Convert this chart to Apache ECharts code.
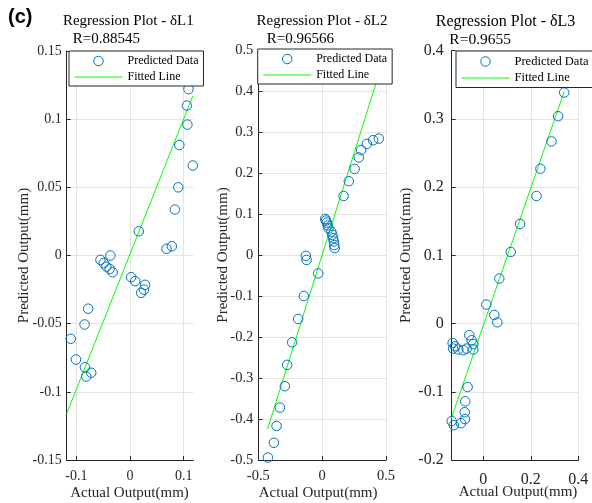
<!DOCTYPE html>
<html>
<head>
<meta charset="utf-8">
<script src="https://cdn.jsdelivr.net/npm/echarts@6/dist/echarts.min.js"></script>
<style>
html,body{margin:0;padding:0;background:#fff;}
#c{width:592px;height:503px;}
</style>
</head>
<body>
<div id="c"></div>
<script>
// ---- Data ----
const panelTitles = ['Regression Plot - δL1', 'Regression Plot - δL2', 'Regression Plot - δL3'];
const rLabels = ['R=0.88545', 'R=0.96566', 'R=0.9655'];
const legendNames = ['Predicted Data', 'Fitted Line'];
const xAxisName = 'Actual Output(mm)';
const yAxisName = 'Predicted Output(mm)';

const L1_actual = [0.109, 0.106, 0.107, 0.092, 0.117, 0.090, 0.0836, 0.0164, 0.068, 0.078,
  -0.0551, -0.049, -0.0366, -0.044, -0.0379, -0.0323, 0.002, 0.0096, 0.028, 0.026, 0.0207,
  -0.078, -0.0847, -0.1105, -0.1185, -0.1007, -0.084, -0.0815, -0.0723];
const L1_pred = [0.122, 0.110, 0.096, 0.081, 0.066, 0.050, 0.0337, 0.0178, 0.0049, 0.0068,
  -0.0032, -0.0056, 0.0, -0.0081, -0.0098, -0.0123, -0.0159, -0.0188, -0.0215, -0.025, -0.0274,
  -0.039, -0.0506, -0.0611, -0.0692, -0.0763, -0.082, -0.0888, -0.086];
const L1_fitX = [-0.118, 0.117];
const L1_fitY = [-0.116, 0.117];

const L2_actual = [0.444, 0.399, 0.350, 0.305, 0.287, 0.254, 0.209, 0.168,
  0.024, 0.030, 0.036, 0.044, 0.050, 0.072, 0.080, 0.086, 0.091, 0.094, 0.098,
  -0.128, -0.122, -0.031, -0.143, -0.188, -0.235, -0.274, -0.292, -0.331, -0.357, -0.378, -0.425];
const L2_pred = [0.284, 0.280, 0.271, 0.256, 0.238, 0.210, 0.180, 0.144,
  0.088, 0.084, 0.079, 0.072, 0.065, 0.057, 0.049, 0.041, 0.033, 0.024, 0.017,
  -0.002, -0.012, -0.045, -0.100, -0.156, -0.213, -0.268, -0.320, -0.372, -0.417, -0.458, -0.494];
const L2_fitX = [-0.428, 0.444];
const L2_fitY = [-0.425, 0.441];

const L3_actual = [0.3405, 0.315, 0.287, 0.2405, 0.224, 0.155, 0.1156, 0.0675, 0.0127, 0.0464, 0.059,
  -0.129, -0.119, -0.127, -0.105, -0.084, -0.070, -0.059, -0.049, -0.042, -0.042,
  -0.066, -0.076, -0.078, -0.077, -0.094, -0.133, -0.124];
const L3_pred = [0.3387, 0.304, 0.267, 0.227, 0.187, 0.146, 0.105, 0.066, 0.0279, 0.0126, 0.0019,
  -0.0284, -0.0333, -0.0367, -0.038, -0.039, -0.0367, -0.017, -0.0245, -0.030, -0.038,
  -0.093, -0.114, -0.130, -0.140, -0.146, -0.143, -0.149];
const L3_fitX = [-0.135, 0.3405];
const L3_fitY = [-0.139, 0.340];

// axis ranges and tick values
const xMin = [-0.118, -0.5, -0.133];
const xMax = [0.118, 0.5, 0.4];
const yMin = [-0.15, -0.5, -0.2];
const yMax = [0.15, 0.5, 0.4];
const xTicks = [[-0.1, 0, 0.1], [-0.5, 0, 0.5], [0, 0.2, 0.4]];
const yTicks = [
  [-0.15, -0.1, -0.05, 0, 0.05, 0.1, 0.15],
  [-0.5, -0.4, -0.3, -0.2, -0.1, 0, 0.1, 0.2, 0.3, 0.4, 0.5],
  [-0.2, -0.1, 0, 0.1, 0.2, 0.3, 0.4]
];

// ---- Layout / style ----
const SERIF = 'Liberation Serif';
const TXT = '#262626';
const BLUE = '#0072BD';
const GREEN = '#00ff00';
const GRIDC = '#e3e3e3';
const grids = [
  {left: 66.7, top: 51, width: 126.6, height: 409, outerBoundsMode: 'none', containLabel: false},
  {left: 258.3, top: 50, width: 127.7, height: 410, outerBoundsMode: 'none', containLabel: false},
  {left: 451.7, top: 50.7, width: 126.6, height: 409.3, outerBoundsMode: 'none', containLabel: false}
];
const tickFont = [14, 14.5, 16];
const yLabelMargin = [5, 5, 8];
const xLabelMargin = [9, 9, 12];
const xNameGap = [25.5, 25.5, 24.5];
const xNamePad = [[0, 1, 0, 0], [0, 8, 0, 0], [0, 0, 0, 6]];
const yNameGap = [35, 27.5, 38.5];
const titleCenters = [128.3, 322, 505.5];
const rLefts = [72.7, 266.7, 449.3];
const titleSize = [15, 15, 16];
const rSize = [15, 15, 15.5];
const legendPos = [
  {left: 69, top: 51, gap: 4, fs: 12},
  {left: 257.7, top: 49, gap: 4, fs: 12},
  {left: 456, top: 51, gap: 3.5, fs: 12.5}
];

function zip(a, b) { return a.map((v, i) => [v, b[i]]); }
const scatterData = [zip(L1_actual, L1_pred), zip(L2_actual, L2_pred), zip(L3_actual, L3_pred)];
const fitData = [zip(L1_fitX, L1_fitY), zip(L2_fitX, L2_fitY), zip(L3_fitX, L3_fitY)];

const xAxes = [], yAxes = [], series = [], titles = [], legends = [];
for (let i = 0; i < 3; i++) {
  const sName = legendNames[0] + ' ' + (i + 1);
  const lName = legendNames[1] + ' ' + (i + 1);
  xAxes.push({
    type: 'value', gridIndex: i, min: xMin[i], max: xMax[i],
    name: xAxisName, nameLocation: 'middle', nameGap: xNameGap[i], nameMoveOverlap: false,
    nameTextStyle: {fontFamily: SERIF, fontSize: 15, color: TXT, padding: xNamePad[i]},
    axisLine: {show: true, onZero: false, lineStyle: {color: TXT, width: 1}},
    axisTick: {show: true, inside: true, length: 4, customValues: xTicks[i], lineStyle: {color: TXT}},
    axisLabel: {fontFamily: SERIF, fontSize: tickFont[i], color: TXT, margin: xLabelMargin[i],
      customValues: xTicks[i], hideOverlap: false},
    splitLine: {show: true, lineStyle: {color: GRIDC, width: 1}}
  });
  yAxes.push({
    type: 'value', gridIndex: i, min: yMin[i], max: yMax[i],
    name: yAxisName, nameLocation: 'middle', nameGap: yNameGap[i], nameMoveOverlap: false,
    nameTextStyle: {fontFamily: SERIF, fontSize: 15, color: TXT},
    axisLine: {show: true, onZero: false, lineStyle: {color: TXT, width: 1}},
    axisTick: {show: true, inside: true, length: 4, customValues: yTicks[i], lineStyle: {color: TXT}},
    axisLabel: {fontFamily: SERIF, fontSize: tickFont[i], color: TXT, margin: yLabelMargin[i],
      customValues: yTicks[i], hideOverlap: false},
    splitLine: {show: true, lineStyle: {color: GRIDC, width: 1}}
  });
  series.push({
    name: sName, type: 'scatter', xAxisIndex: i, yAxisIndex: i,
    data: scatterData[i], symbol: 'circle', symbolSize: 9.5, z: 3,
    itemStyle: {color: 'rgba(0,0,0,0)', borderColor: BLUE, borderWidth: 1, opacity: 1},
    emphasis: {disabled: true}
  });
  series.push({
    name: lName, type: 'line', xAxisIndex: i, yAxisIndex: i,
    data: fitData[i], symbol: 'none', showSymbol: false, z: 2,
    lineStyle: {color: GREEN, width: 1}, itemStyle: {color: GREEN},
    emphasis: {disabled: true}
  });
  titles.push({
    text: panelTitles[i], left: titleCenters[i], top: 14, textAlign: 'center', padding: 0,
    textStyle: {fontFamily: SERIF, fontSize: titleSize[i], fontWeight: 'normal', color: '#000'}
  });
  titles.push({
    text: rLabels[i], left: rLefts[i], top: 31.5, padding: 0,
    textStyle: {fontFamily: SERIF, fontSize: rSize[i], fontWeight: 'normal', color: '#000'}
  });
  const lp = legendPos[i];
  legends.push({
    data: [
      {name: sName, icon: 'circle',
       itemStyle: {color: 'rgba(0,0,0,0)', borderColor: BLUE, borderWidth: 1}},
      {name: lName, itemStyle: {opacity: 0}, lineStyle: {color: GREEN, width: 1}}
    ],
    formatter: function (n) { return n.replace(/ \d$/, ''); },
    orient: 'vertical', left: lp.left, top: lp.top,
    itemWidth: 48, itemHeight: 9.5, itemGap: lp.gap, padding: [4, 5, 3, 5],
    backgroundColor: '#fff', borderColor: TXT, borderWidth: 1, borderRadius: 0,
    selectedMode: false, z: 10,
    textStyle: {fontFamily: SERIF, fontSize: lp.fs, color: '#000'}
  });
}
titles.push({
  text: '(c)', left: 8, top: 7, padding: 0,
  textStyle: {fontFamily: 'Liberation Sans', fontSize: 20, fontWeight: 'bold', color: '#000'}
});

const chart = echarts.init(document.getElementById('c'), null, {renderer: 'canvas'});
chart.setOption({
  animation: false,
  backgroundColor: '#fff',
  title: titles,
  legend: legends,
  grid: grids,
  xAxis: xAxes,
  yAxis: yAxes,
  series: series
});
</script>
</body>
</html>
